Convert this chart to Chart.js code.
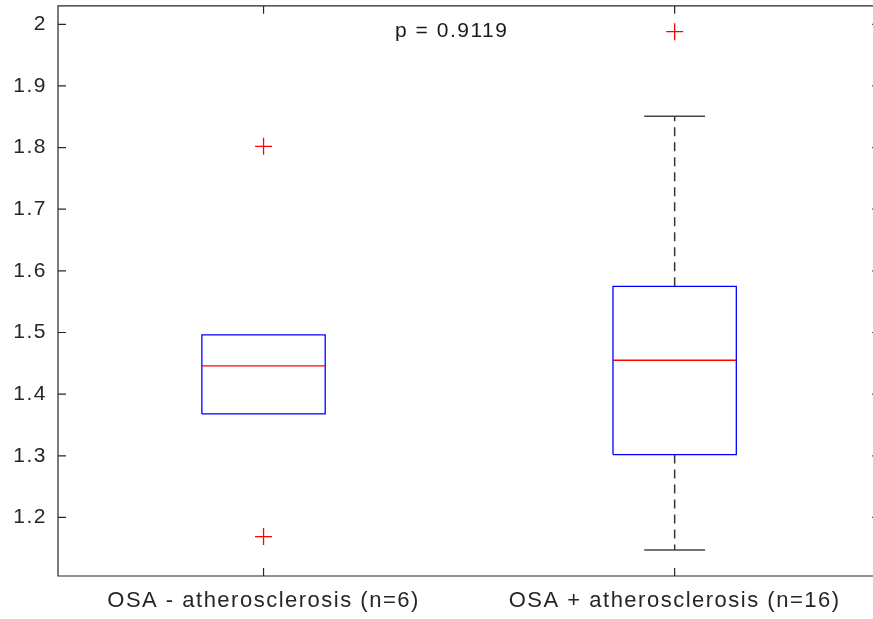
<!DOCTYPE html>
<html>
<head>
<meta charset="utf-8">
<script src="https://cdn.jsdelivr.net/npm/chart.js@4.4.1/dist/chart.umd.min.js"></script>
<style>
  html, body { margin: 0; padding: 0; overflow: hidden; background: #fff; }
  #boxChart { display: block; margin-top: -4px; }
</style>
</head>
<body>
<canvas id="boxChart" width="890" height="623"></canvas>
<script>
// values
const groupLabels = ["OSA - atherosclerosis (n=6)", "OSA + atherosclerosis (n=16)"];
const groupPos = [1, 2];
const q1 = [1.368, 1.302];
const median = [1.446, 1.455];
const q3 = [1.496, 1.575];
const whiskerLow = [1.368, 1.147];
const whiskerHigh = [1.496, 1.851];
const outliers = [[1.802, 1.169], [1.988]];
const yTicks = [1.2, 1.3, 1.4, 1.5, 1.6, 1.7, 1.8, 1.9, 2];
const pText = "p = 0.9119";
const pPos = { x: 1.32, y: 1.988 };

const BOX_HALF = 0.15;
const CAP_HALF = 0.074;
const AXIS_COLOR = "#262626";

Chart.defaults.font.family = "'Liberation Sans', Arial, sans-serif";

function seg(points, color, width, dash, order) {
    return {
        data: points,
        showLine: true,
        borderColor: color,
        borderWidth: width,
        borderDash: dash || [],
        pointRadius: 0,
        fill: false,
        order: order
    };
}

const datasets = [];
groupPos.forEach((c, i) => {
    // whiskers + caps, only when they stick out of the box
    if (whiskerHigh[i] > q3[i]) {
        datasets.push(seg([{ x: c, y: q3[i] }, { x: c, y: whiskerHigh[i] }], "#333", 1.5, [9, 6], 4));
        datasets.push(seg([{ x: c - CAP_HALF, y: whiskerHigh[i] }, { x: c + CAP_HALF, y: whiskerHigh[i] }], "#444", 1.5, null, 3));
    }
    if (whiskerLow[i] < q1[i]) {
        datasets.push(seg([{ x: c, y: q1[i] }, { x: c, y: whiskerLow[i] }], "#333", 1.5, [9, 6], 4));
        datasets.push(seg([{ x: c - CAP_HALF, y: whiskerLow[i] }, { x: c + CAP_HALF, y: whiskerLow[i] }], "#444", 1.5, null, 3));
    }
    // box
    datasets.push(seg([
        { x: c - BOX_HALF, y: q1[i] }, { x: c + BOX_HALF, y: q1[i] },
        { x: c + BOX_HALF, y: q3[i] }, { x: c - BOX_HALF, y: q3[i] },
        { x: c - BOX_HALF, y: q1[i] }
    ], "#0000ff", 1.3, null, 1));
    // median
    datasets.push(seg([{ x: c - BOX_HALF, y: median[i] }, { x: c + BOX_HALF, y: median[i] }], "#ff0000", 1.3, null, 0));
    // outliers
    datasets.push({
        data: outliers[i].map(v => ({ x: c, y: v })),
        showLine: false,
        pointStyle: "cross",
        pointRadius: 8.5,
        pointBorderColor: "#ff0000",
        pointBorderWidth: 1.3,
        order: 0
    });
});

// matlab style frame with inward ticks + p value text
const framePlugin = {
    id: "frame",
    beforeDraw(chart) {
        chart.ctx.letterSpacing = "1.5px";
    },
    afterDraw(chart) {
        const { ctx, chartArea: { left, right, top, bottom }, scales: { x, y } } = chart;
        ctx.save();
        ctx.strokeStyle = AXIS_COLOR;
        ctx.lineWidth = 1.2;
        ctx.beginPath();
        ctx.rect(left, top, right - left, bottom - top);
        y.ticks.forEach(t => {
            const py = y.getPixelForValue(t.value);
            ctx.moveTo(left, py); ctx.lineTo(left + 8, py);
            ctx.moveTo(right, py); ctx.lineTo(right - 8, py);
        });
        x.ticks.forEach(t => {
            const px = x.getPixelForValue(t.value);
            ctx.moveTo(px, bottom); ctx.lineTo(px, bottom - 8);
            ctx.moveTo(px, top); ctx.lineTo(px, top + 8);
        });
        ctx.stroke();

        ctx.fillStyle = "#1a1a1a";
        ctx.font = "21px 'Liberation Sans', Arial, sans-serif";
        ctx.textAlign = "left";
        ctx.textBaseline = "middle";
        ctx.fillText(pText, x.getPixelForValue(pPos.x), y.getPixelForValue(pPos.y));
        ctx.restore();
        ctx.letterSpacing = "0px";
    }
};

new Chart(document.getElementById("boxChart").getContext("2d"), {
    type: "scatter",
    data: { datasets },
    options: {
        responsive: false,
        animation: false,
        devicePixelRatio: 1,
        layout: { padding: { top: 2, right: 9, left: 0, bottom: 0 } },
        plugins: { legend: { display: false }, tooltip: { enabled: false } },
        scales: {
            x: {
                type: "linear",
                min: 0.5,
                max: 2.5,
                grid: { display: false, drawTicks: false },
                border: { display: false },
                afterBuildTicks: s => { s.ticks = groupPos.map(v => ({ value: v })); },
                afterFit: s => { s.height = 43; s.paddingLeft = 0; s.paddingRight = 0; },
                ticks: {
                    callback: (v, i) => groupLabels[i],
                    font: { size: 22 },
                    color: AXIS_COLOR,
                    padding: 12,
                    maxRotation: 0,
                    autoSkip: false
                }
            },
            y: {
                min: 1.105,
                max: 2.03,
                grid: { display: false, drawTicks: false },
                border: { display: false },
                afterBuildTicks: s => { s.ticks = yTicks.map(v => ({ value: v })); },
                afterFit: s => { s.width = 58; s.paddingTop = 0; s.paddingBottom = 0; },
                ticks: {
                    callback: v => String(v),
                    font: { size: 21 },
                    color: AXIS_COLOR,
                    padding: 11
                }
            }
        }
    },
    plugins: [framePlugin]
});
</script>
</body>
</html>
